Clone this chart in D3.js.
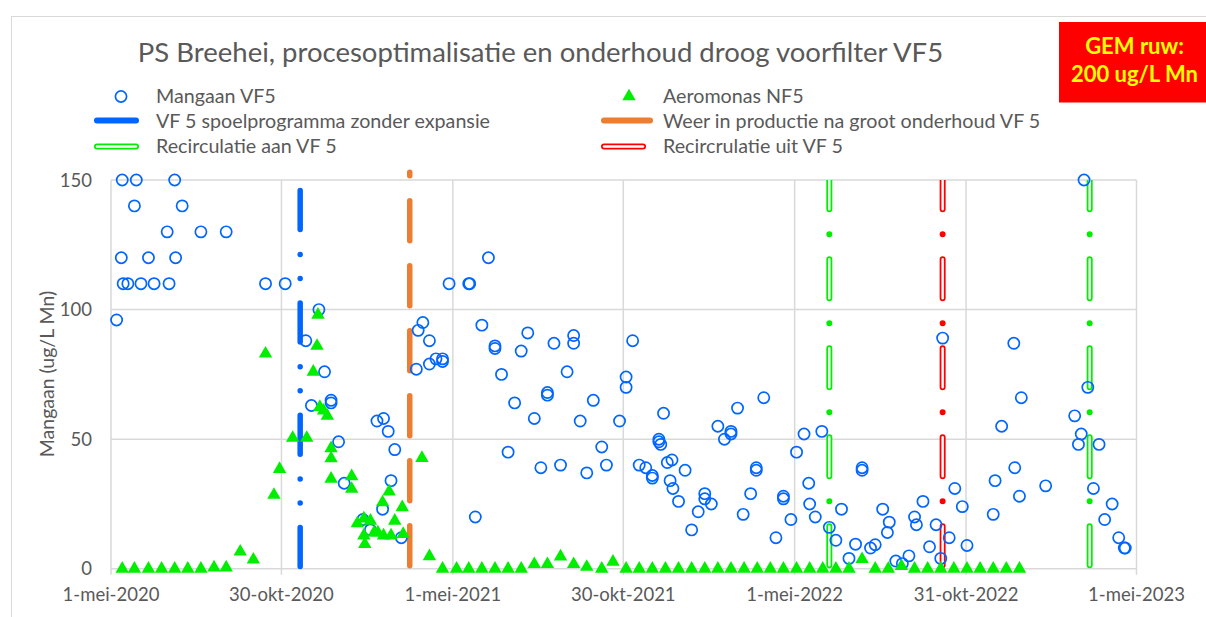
<!DOCTYPE html>
<html><head><meta charset="utf-8">
<script src="https://cdn.jsdelivr.net/npm/d3@7/dist/d3.min.js"></script>
<style>
body{margin:0;background:#fff;}
svg{display:block;}
text{font-family:Lato,"Open Sans",sans-serif;fill:#595959;}
</style>
</head><body>
<svg id="chart" width="1206" height="617"></svg>
<script>
// ---------- DATA ----------
const mnDates = ["2020-05-07","2020-05-12","2020-05-13","2020-05-14","2020-05-19","2020-05-26","2020-05-28","2020-06-02","2020-06-10","2020-06-16",
"2020-06-30","2020-07-02","2020-07-08","2020-07-09","2020-07-16","2020-08-05","2020-09-01","2020-10-13","2020-11-03","2020-11-25",
"2020-12-01","2020-12-09","2020-12-15","2020-12-22","2020-12-22","2020-12-30","2021-01-05","2021-01-25","2021-02-02","2021-02-09",
"2021-02-15","2021-02-16","2021-02-21","2021-02-24","2021-02-28","2021-03-07","2021-03-23","2021-03-25","2021-03-30","2021-04-06",
"2021-04-06","2021-04-13","2021-04-20","2021-04-20","2021-04-27","2021-05-18","2021-05-19","2021-05-25","2021-06-01","2021-06-08",
"2021-06-15","2021-06-15","2021-06-22","2021-06-29","2021-07-06","2021-07-13","2021-07-20","2021-07-27","2021-08-03","2021-08-10",
"2021-08-10","2021-08-17","2021-08-24","2021-08-31","2021-09-07","2021-09-07","2021-09-14","2021-09-21","2021-09-28","2021-10-07",
"2021-10-12","2021-10-26","2021-11-02","2021-11-02","2021-11-09","2021-11-16","2021-11-23","2021-11-30","2021-11-30","2021-12-07",
"2021-12-07","2021-12-09","2021-12-12","2021-12-16","2021-12-19","2021-12-21","2021-12-22","2021-12-28","2022-01-04","2022-01-11",
"2022-01-18","2022-01-25","2022-01-25","2022-02-01","2022-02-08","2022-02-15","2022-02-22","2022-02-22","2022-03-01","2022-03-07",
"2022-03-15","2022-03-21","2022-03-21","2022-03-29","2022-04-11","2022-04-19","2022-04-19","2022-04-27","2022-05-03","2022-05-11",
"2022-05-16","2022-05-17","2022-05-23","2022-05-30","2022-06-07","2022-06-14","2022-06-20","2022-06-28","2022-07-05","2022-07-12",
"2022-07-12","2022-07-21","2022-07-26","2022-08-03","2022-08-08","2022-08-10","2022-08-17","2022-08-24","2022-08-31","2022-09-06",
"2022-09-08","2022-09-15","2022-09-22","2022-09-29","2022-10-04","2022-10-06","2022-10-13","2022-10-19","2022-10-27","2022-11-01",
"2022-11-29","2022-12-01","2022-12-08","2022-12-21","2022-12-22","2022-12-27","2022-12-29","2023-01-24","2023-02-24","2023-02-28",
"2023-03-03","2023-03-06","2023-03-10","2023-03-16","2023-03-22","2023-03-28","2023-04-05","2023-04-12","2023-04-18","2023-04-19"];
const mnValues = [96,120,150,110,110,140,150,110,120,110,
130,110,150,120,140,130,130,110,110,88,
63,100,76,65,64,49,33,19,15,57,
23,58,53,34,46,12,77,92,95,88,
79,81,81,80,110,110,110,20,94,120,
86,85,75,45,64,84,91,58,39,68,
67,87,40,76,90,87,57,37,65,47,
40,57,74,70,88,40,39,36,35,50,
49,48,60,41,34,42,31,26,38,15,
22,29,27,25,55,50,53,52,62,21,
29,39,38,66,12,28,27,19,45,52,
33,25,20,53,16,11,23,4,9.5,39,
38,8,9.3,23,14,18,3,2,5,20,
17,26,8.5,17,4,89,12,31,24,9,
21,34,55,87,39,28,66,32,59,48,
52,150,70,31,48,19,25,12,8,8];

const aeroDates = ["2020-05-13","2020-05-26","2020-06-10","2020-06-24","2020-07-08","2020-07-22","2020-08-05","2020-08-19","2020-09-01","2020-09-16",
"2020-09-30","2020-10-13","2020-10-22","2020-10-28","2020-11-11","2020-11-26","2020-12-03","2020-12-07","2020-12-08","2020-12-10",
"2020-12-14","2020-12-18","2020-12-22","2020-12-22","2020-12-22","2021-01-13","2021-01-13","2021-01-19","2021-01-26","2021-01-26",
"2021-01-27","2021-02-02","2021-02-06","2021-02-10","2021-02-15","2021-02-16","2021-02-22","2021-02-24","2021-02-28","2021-03-08",
"2021-03-09","2021-03-29","2021-04-06","2021-04-20","2021-05-05","2021-05-18","2021-06-01","2021-06-15","2021-06-29","2021-07-13",
"2021-07-27","2021-08-10","2021-08-24","2021-09-07","2021-09-21","2021-10-07","2021-10-19","2021-11-02","2021-11-16","2021-11-30",
"2021-12-14","2021-12-28","2022-01-11","2022-01-25","2022-02-08","2022-02-22","2022-03-08","2022-03-22","2022-04-05","2022-04-19",
"2022-05-03","2022-05-17","2022-05-31","2022-06-14","2022-06-28","2022-07-12","2022-07-26","2022-08-09","2022-08-23","2022-09-06",
"2022-09-20","2022-10-04","2022-10-18","2022-11-01","2022-11-15","2022-11-29","2022-12-13","2022-12-27"];
const aeroValues = [0,0,0,0,0,0,0,0.5,0.5,6.6,
3.5,83,28.5,38.5,50.5,50.5,76,86,98,62.4,
61,59,46.5,42.6,34.7,35.7,30.8,17.5,19.4,12.8,
9.5,18.5,14,14,25.6,12.8,29.8,12.8,18.5,23.7,
13.4,42.7,4.8,0,0,0,0,0,0,0,
1.8,1.8,4.7,1.8,0.7,0,2.7,0,0,0,
0,0,0,0,0,0,0,0,0,0,
0,0,0,0,0,3.7,0,0,1,0,
0,0,0,0,0,0,0,0];

// event lines (date, value range)
const spoelDates = ["2020-11-19"];
const onderhoudDates = ["2021-03-16"];
const recircAanDates = ["2022-06-07","2023-03-12"];
const recircUitDates = ["2022-10-06"];
const eventBottom = 0, eventTop = 150, onderhoudTop = 153;

const xTickDates = ["2020-05-01","2020-10-30","2021-05-01","2021-10-30","2022-05-01","2022-10-31","2023-05-01"];
const xTickLabels = ["1-mei-2020","30-okt-2020","1-mei-2021","30-okt-2021","1-mei-2022","31-okt-2022","1-mei-2023"];
const yTicks = [0,50,100,150];

const titleText = "PS Breehei, procesoptimalisatie en onderhoud droog voorfilter VF5";
const yTitle = "Mangaan (ug/L Mn)";
const legendNames = ["Mangaan VF5","Aeromonas NF5","VF 5 spoelprogramma zonder expansie","Weer in productie na groot onderhoud VF 5","Recirculatie aan VF 5","Recircrulatie uit VF 5"];
const noteLines = ["GEM ruw:","200 ug/L Mn"];

// ---------- DRAW ----------
const P = d3.timeParse("%Y-%m-%d");
const svg = d3.select("#chart");
const L = 111, R = 1136.5, T = 180, B = 568.8;
const x = d3.scaleTime().domain([P("2020-05-01"), P("2023-05-01")]).range([L, R]);
const y = d3.scaleLinear().domain([0,150]).range([B, T]);

const BLUE = "#0066ff", GREEN = "#00ee00", ORANGE = "#ed7d31", RED = "#ff0000";

// chart frame
svg.append("rect").attr("x",11.5).attr("y",16.5).attr("width",1230).attr("height",640)
  .attr("fill","#fff").attr("stroke","#d9d9d9").attr("stroke-width",1);

svg.append("defs").append("clipPath").attr("id","plotclip")
  .append("rect").attr("x",L-20).attr("y",T).attr("width",R-L+40).attr("height",B-T+10);

// gridlines
const grid = svg.append("g");
grid.selectAll("line.h").data(yTicks).join("line")
  .attr("x1",L).attr("x2",R).attr("y1",d=>y(d)).attr("y2",d=>y(d))
  .attr("stroke","#d9d9d9").attr("stroke-width",1.5);
grid.selectAll("line.v").data(xTickDates).join("line")
  .attr("x1",d=>x(P(d))).attr("x2",d=>x(P(d))).attr("y1",T).attr("y2",B+6)
  .attr("stroke","#d9d9d9").attr("stroke-width",1.5);

// axes labels
svg.append("g").selectAll("text").data(xTickDates).join("text")
  .attr("x",d=>x(P(d))).attr("y",601).attr("text-anchor","middle")
  .style("font-size","18.5px").text((d,i)=>xTickLabels[i]);
svg.append("g").selectAll("text").data(yTicks).join("text")
  .attr("x",92).attr("y",d=>y(d)+6.5).attr("text-anchor","end")
  .style("font-size","18.5px").text(d=>d);
svg.append("text").attr("transform","translate(53.5,374) rotate(-90)")
  .attr("text-anchor","middle").style("font-size","19.5px").text(yTitle);

// title
svg.append("text").attr("x",540.5).attr("y",62).attr("text-anchor","middle")
  .style("font-size","27.5px").text(titleText);

// event lines
const line = d3.line();
function eventLine(dates, top, color, width, dash, offset, hollow, innerDash, clip){
  const g = svg.append("g");
  if (clip) g.attr("clip-path","url(#plotclip)");
  dates.forEach(ds=>{
    const xx = x(P(ds));
    const p = line([[xx,y(eventBottom)],[xx,y(top)]]);
    g.append("path").attr("d",p).attr("fill","none").attr("stroke",color)
      .attr("stroke-width",width).attr("stroke-linecap","round")
      .attr("stroke-dasharray",dash).attr("stroke-dashoffset",offset);
    if (hollow){
      g.append("path").attr("d",p).attr("fill","none").attr("stroke","#fff")
        .attr("stroke-width",2.4).attr("stroke-linecap","round")
        .attr("stroke-dasharray",innerDash).attr("stroke-dashoffset",offset);
    }
  });
}
eventLine(spoelDates, eventTop, BLUE, 5.5, "39 24.5 0 24 0 24.8", -2.3, false, null, false);
eventLine(onderhoudDates, onderhoudTop, ORANGE, 5.5, "40 25", -3, false, null, false);
eventLine(recircAanDates, eventTop, GREEN, 6, "39 25 0 25", -3.5, true, "39 50", true);
eventLine(recircUitDates, eventTop, RED, 6, "39 25 0 25", -3.5, true, "39 50", true);

// scatter: Mangaan
const mn = mnDates.map((d,i)=>({d:P(d), v:mnValues[i]}));
svg.append("g").selectAll("circle").data(mn).join("circle")
  .attr("cx",d=>x(d.d)).attr("cy",d=>y(d.v)).attr("r",5.6)
  .attr("fill","none").attr("stroke",BLUE).attr("stroke-width",1.7);

// scatter: Aeromonas
const ae = aeroDates.map((d,i)=>({d:P(d), v:aeroValues[i]}));
const tri = d3.symbol().type(d3.symbolTriangle).size(78);
svg.append("g").selectAll("path").data(ae).join("path")
  .attr("transform",d=>`translate(${x(d.d)},${y(d.v)})`)
  .attr("d",tri).attr("fill",GREEN);

// legend
const lg = svg.append("g");
const rows = [103, 127.5, 153];
const colIcon = [121, 629], colText = [156, 663];
function legText(i, col, row){
  lg.append("text").attr("x",colText[col]).attr("y",rows[row]).style("font-size","19.7px").text(legendNames[i]);
}
lg.append("circle").attr("cx",colIcon[0]).attr("cy",96.5).attr("r",5.6).attr("fill","none").attr("stroke",BLUE).attr("stroke-width",1.7);
legText(0,0,0);
lg.append("path").attr("transform",`translate(${colIcon[1]},96.5)`).attr("d",tri).attr("fill",GREEN);
legText(1,1,0);
lg.append("line").attr("x1",97).attr("x2",136).attr("y1",120.5).attr("y2",120.5).attr("stroke",BLUE).attr("stroke-width",6).attr("stroke-linecap","round");
legText(2,0,1);
lg.append("line").attr("x1",604).attr("x2",650).attr("y1",120.5).attr("y2",120.5).attr("stroke",ORANGE).attr("stroke-width",6).attr("stroke-linecap","round");
legText(3,1,1);
[[97,136,GREEN],[604,643,RED]].forEach(([a,b,c])=>{
  lg.append("line").attr("x1",a).attr("x2",b).attr("y1",146.5).attr("y2",146.5).attr("stroke",c).attr("stroke-width",6).attr("stroke-linecap","round");
  lg.append("line").attr("x1",a).attr("x2",b).attr("y1",146.5).attr("y2",146.5).attr("stroke","#fff").attr("stroke-width",2.4).attr("stroke-linecap","round");
});
legText(4,0,2);
legText(5,1,2);

// note box
svg.append("rect").attr("x",1059).attr("y",22).attr("width",150).attr("height",80.5).attr("fill","#ff0000");
svg.append("g").selectAll("text").data(noteLines).join("text")
  .attr("x",1134.5).attr("y",(d,i)=>54+i*28).attr("text-anchor","middle")
  .style("font-size","22px").style("font-weight","700").style("fill","#ffff00").text(d=>d);
</script>
</body></html>
